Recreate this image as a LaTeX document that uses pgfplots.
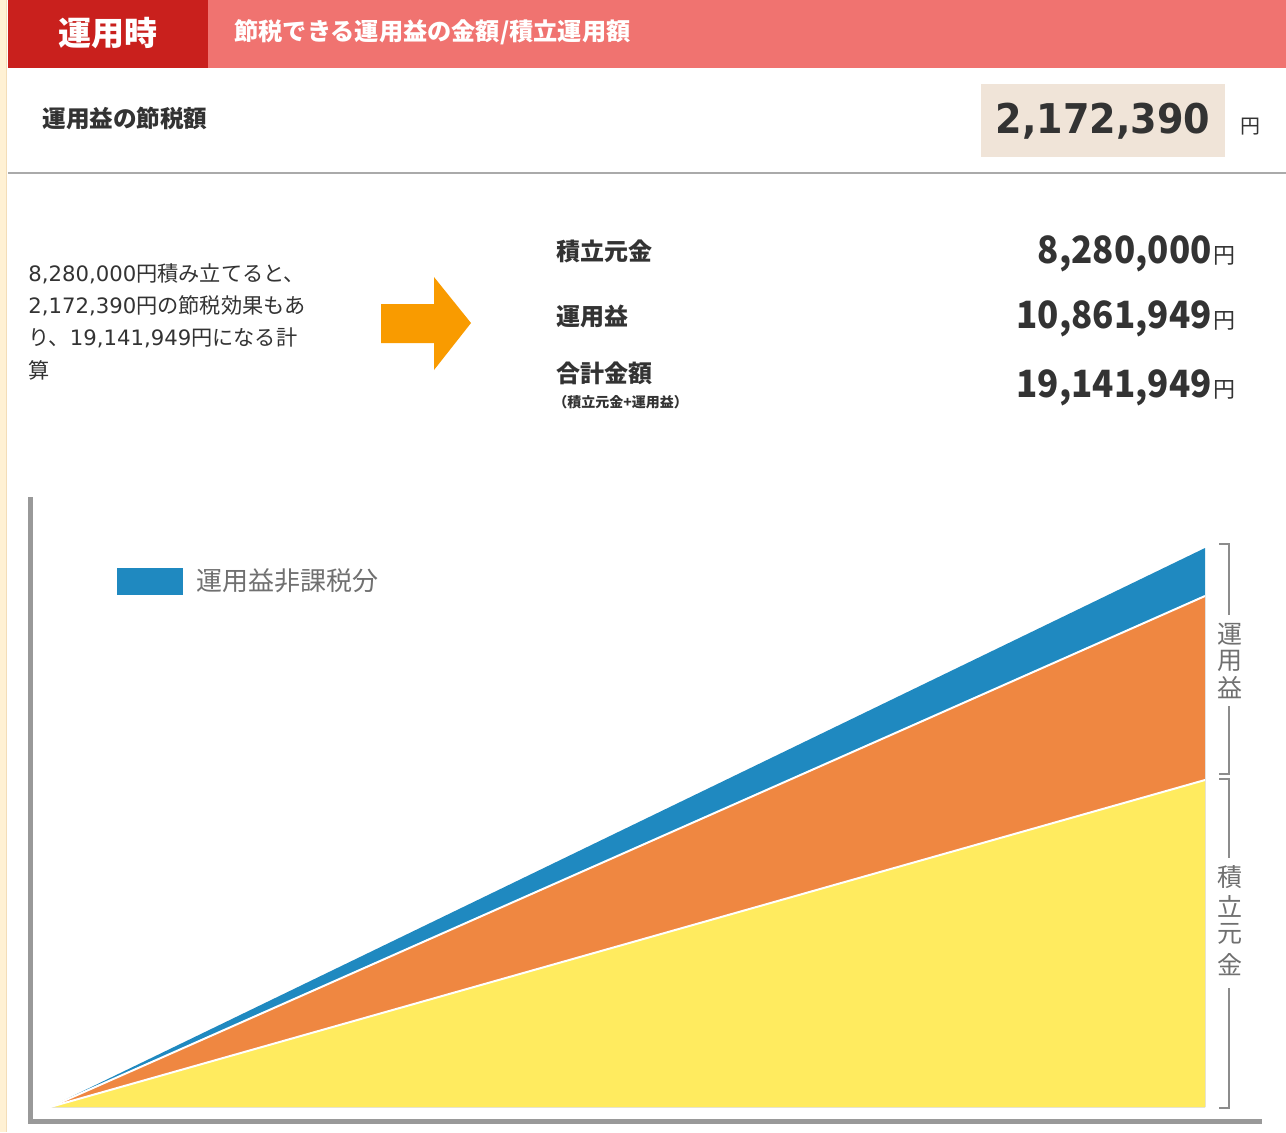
\documentclass[border=0pt]{standalone}
\usepackage{fontspec}
\setmainfont{Noto Sans CJK JP}
\newfontfamily\lat{DejaVu Sans}
\usepackage{pgfplots}
\pgfplotsset{compat=1.18}
\definecolor{cream}{HTML}{FFF1D4}
\definecolor{creamline}{HTML}{F3DDB8}
\definecolor{hdred}{HTML}{C9201D}
\definecolor{hdpink}{HTML}{F07370}
\definecolor{beige}{HTML}{F0E4D8}
\definecolor{txt}{HTML}{333333}
\definecolor{ruleg}{HTML}{AAAAAA}
\definecolor{arrowc}{HTML}{F99B00}
\definecolor{framec}{HTML}{999999}
\definecolor{cyellow}{HTML}{FFEB5F}
\definecolor{corange}{HTML}{EF8741}
\definecolor{cblue}{HTML}{1F89C0}
\definecolor{legtxt}{HTML}{707070}
\definecolor{brk}{HTML}{8C8C8C}
\newcommand{\fs}[1]{\fontsize{#1}{#1}\selectfont}

\pgfplotstableread{
year total
0 0
20 559
}\bluetab
\pgfplotstableread{
year total
0 0
20 511
}\orangetab
\pgfplotstableread{
year total
0 0
20 327
}\yellowtab

\begin{document}
\begin{tikzpicture}
\begin{scope}[x=0.5pt,y=-0.5pt]
\useasboundingbox (0,0) rectangle (1286,1132);
\fill[white] (0,0) rectangle (1286,1132);
\fill[cream] (0,0) rectangle (6,1132);
\draw[creamline, line width=0.5pt] (6,0) -- (6,1132);
\fill[hdpink] (8,0) rectangle (1286,68);
\fill[hdred] (8,0) rectangle (208,68);
\node[white, font=\bfseries\fs{16.5pt}] at (108,33) {運用時};
\node[white, font=\bfseries\fs{12.1pt}, anchor=west, inner sep=0pt] at (234,32) {節税できる運用益の金額/積立運用額};
\node[txt, font=\bfseries\fs{11.8pt}, anchor=west, inner sep=0pt] at (42,118) {運用益の節税額};
\fill[beige] (981,84) rectangle (1225,157);
\node[txt, font=\lat\bfseries\fs{20.5pt}, anchor=base, inner sep=0pt] at (1103,133) {\scalebox{0.93}[1]{2,172,390}};
\node[txt, font=\fs{10pt}, anchor=base west, inner sep=0pt] at (1240,133) {円};
\draw[ruleg, line width=0.75pt] (8,173) -- (1286,173);
% paragraph
\begin{scope}[every node/.style={txt, font=\fs{10.6pt}, anchor=west, inner sep=0pt}]
\node at (28,274) {{\lat 8,280,000}円積み立てると、};
\node at (28,306) {{\lat 2,172,390}円の節税効果もあ};
\node at (28,338) {り、{\lat 19,141,949}円になる計};
\node at (28,370) {算};
\end{scope}
\fill[arrowc] (381,304) -- (434,304) -- (434,277) -- (471,323) -- (434,370) -- (434,343) -- (381,343) -- cycle;
\begin{scope}[every node/.style={txt, font=\bfseries\fs{12pt}, anchor=west, inner sep=0pt}]
\node at (556,251) {積立元金};
\node at (556,316) {運用益};
\node at (556,373) {合計金額};
\end{scope}
\node[txt, font=\bfseries\fs{7pt}, anchor=west, inner sep=0pt] at (553,402) {（積立元金+運用益）};
\begin{scope}[every node/.style={txt, font=\bfseries\fs{18.8pt}, anchor=base east, inner sep=0pt}]
\node at (1212,263) {\scalebox{0.93}[1]{8,280,000}};
\node at (1212,328) {\scalebox{0.93}[1]{10,861,949}};
\node at (1212,397) {\scalebox{0.93}[1]{19,141,949}};
\end{scope}
\begin{scope}[every node/.style={txt, font=\fs{11pt}, anchor=base west, inner sep=0pt}]
\node at (1213,263) {円};
\node at (1213,328) {円};
\node at (1213,397) {円};
\end{scope}
% frame
\draw[framec, line width=2.5pt, line join=miter] (30.5,497) -- (30.5,1121.5) -- (1262,1121.5);
% brackets
\begin{scope}[brk, line width=1.2pt]
\draw (1219,544) -- (1229,544) -- (1229,615);
\draw (1229,706) -- (1229,774) -- (1219,774);
\draw (1219,779) -- (1229,779) -- (1229,858);
\draw (1229,988) -- (1229,1108) -- (1219,1108);
\end{scope}
\begin{scope}[every node/.style={legtxt, font=\fs{12.5pt}, inner sep=0pt}]
\node at (1230,634) {運};
\node at (1230,661) {用};
\node at (1230,688) {益};
\node at (1230,877) {積};
\node at (1230,906) {立};
\node at (1230,934) {元};
\node at (1230,965) {金};
\end{scope}
\end{scope}
\begin{axis}[at={(25pt,-553.5pt)}, anchor=south west, scale only axis,
  width=577.5pt, height=279.5pt, xmin=0, xmax=20, ymin=0, ymax=559,
  hide axis, clip=false,
  legend style={at={(0.058,0.940)}, anchor=west, draw=none, fill=none,
    inner sep=0pt, font=\fs{13pt}, text=legtxt},
  legend cell align=left]
\addplot[draw=none, fill=cblue,
  legend image code/.code={\fill[cblue] (0pt,-6.75pt) rectangle (33pt,6.75pt); \path (37.5pt,0pt);}]
  table[x=year,y=total] {\bluetab} \closedcycle;
\addlegendentry{運用益非課税分}
\addplot[draw=none, fill=corange, forget plot] table[x=year,y=total] {\orangetab} \closedcycle;
\addplot[draw=none, fill=cyellow, forget plot] table[x=year,y=total] {\yellowtab} \closedcycle;
\addplot[white, line width=1pt, forget plot] table[x=year,y=total] {\orangetab};
\addplot[white, line width=1pt, forget plot] table[x=year,y=total] {\yellowtab};
\end{axis}
\end{tikzpicture}
\end{document}
